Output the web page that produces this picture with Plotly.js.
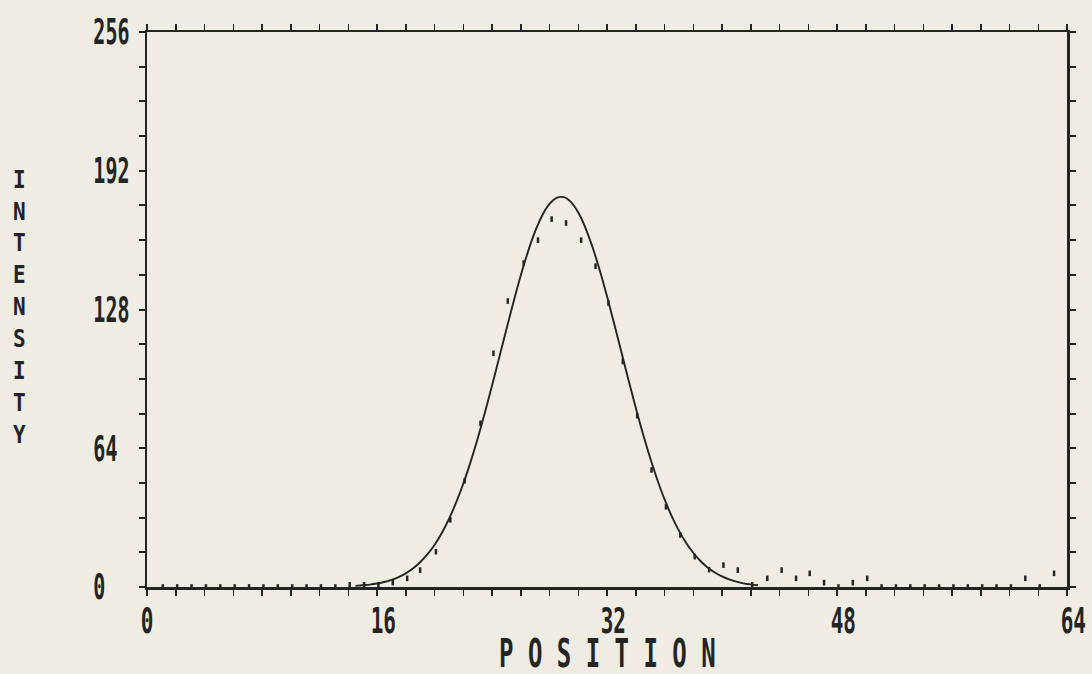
<!DOCTYPE html>
<html>
<head>
<meta charset="utf-8">
<script src="https://cdn.plot.ly/plotly-3.0.1.min.js"></script>
<style>
  html, body { margin: 0; padding: 0; background: #eeece3; }
  #chart { width: 1092px; height: 674px; }
</style>
</head>
<body>
<div id="chart"></div>
<script>
// Fitted curve
const curveX = [14.5, 15.0, 15.5, 16.0, 16.5, 17.0, 17.5, 18.0, 18.5, 19.0, 19.5, 20.0, 20.5, 21.0, 21.5, 22.0, 22.5, 23.0, 23.5, 24.0, 24.5, 25.0, 25.5, 26.0, 26.5, 27.0, 27.5, 28.0, 28.5, 29.0, 29.5, 30.0, 30.5, 31.0, 31.5, 32.0, 32.5, 33.0, 33.5, 34.0, 34.5, 35.0, 35.5, 36.0, 36.5, 37.0, 37.5, 38.0, 38.5, 39.0, 39.5, 40.0, 40.5, 41.0, 41.5, 42.0, 42.5];
const curveY = [0.5, 0.8, 1.1, 1.6, 2.3, 3.3, 4.6, 6.3, 8.5, 11.4, 15.0, 19.4, 24.8, 31.3, 38.9, 47.6, 57.5, 68.4, 80.3, 92.8, 105.8, 118.8, 131.6, 143.7, 154.6, 164.0, 171.5, 176.7, 179.5, 179.8, 177.5, 172.7, 165.7, 156.6, 146.0, 134.1, 121.4, 108.4, 95.4, 82.7, 70.7, 59.6, 49.5, 40.5, 32.7, 26.0, 20.4, 15.8, 12.0, 9.0, 6.7, 4.9, 3.5, 2.5, 1.7, 1.2, 0.8];

const pointX = [1.1, 2.1, 3.1, 4.1, 5.1, 6.1, 7.1, 8.1, 9.1, 10.1, 11.1, 12.1, 13.1, 14.1, 15.1, 16.1, 17.1, 18.1, 19.0, 20.1, 21.1, 22.1, 23.2, 24.1, 25.1, 26.2, 27.2, 28.15, 29.15, 30.2, 31.2, 32.1, 33.1, 34.1, 35.1, 36.1, 37.1, 38.1, 39.1, 40.1, 41.1, 42.1, 43.15, 44.15, 45.15, 46.1, 47.1, 48.1, 49.1, 50.1, 51.1, 52.1, 53.1, 54.1, 55.1, 56.1, 57.1, 58.1, 59.1, 60.1, 61.1, 62.1, 63.1];
const pointY = [0, 0, 0, 0, 0, 0, 0, 0, 0, 0, 0, 0, 0, 1, 1, 1, 2, 4, 7.8, 16.3, 31, 49, 75.5, 107.8, 131.9, 149.4, 160, 169.7, 167.9, 160, 148, 131, 104, 79, 54, 37, 24, 14, 8, 10.1, 7.8, 1, 4, 7.8, 4, 6.3, 2, 0, 2, 4, 0, 0, 0, 0, 0, 0, 0, 0, 0, 0, 4, 0, 6.3];

const xTicks = [0, 16, 32, 48, 64];
const yTicks = [0, 64, 128, 192, 256];
const xTitle = "POSITION";
const yTitle = "INTENSITY";

const NB = '\u00a0';
// old plotter style: x labels start at the tick, y labels are left-aligned
const xTickText = xTicks.map(v => NB.repeat(String(v).length - 1) + String(v));
const yTickText = yTicks.map(v => String(v) + NB.repeat(3 - String(v).length));

const FONT = '"DejaVu Sans Mono", "Liberation Mono", monospace';
const BG = '#eeece3';
const INK = '#242424';

const traces = [
  {
    x: curveX, y: curveY, type: 'scatter', mode: 'lines',
    line: { color: INK, width: 1.9, shape: 'spline' },
    hoverinfo: 'skip', showlegend: false
  },
  {
    x: pointX, y: pointY, type: 'scatter', mode: 'markers',
    marker: { symbol: 'line-ns', size: 4, color: INK, line: { color: INK, width: 2.5 } },
    showlegend: false
  }
];

const axisCommon = {
  showgrid: false, zeroline: false,
  showline: true, linecolor: INK, linewidth: 2.5,
  mirror: 'ticks', ticks: 'outside', ticklen: 6, tickwidth: 2, tickcolor: INK,
  fixedrange: true
};

const layout = {
  width: 1092, height: 674,
  paper_bgcolor: BG, plot_bgcolor: BG,
  margin: { l: 147, r: 25, t: 32, b: 87 },
  font: { family: FONT, color: INK },
  xaxis: Object.assign({}, axisCommon, {
    range: [0, 64], tickmode: 'array', tickvals: xTicks, ticktext: xTickText,
    tickfont: { family: FONT, size: 21, color: INK, weight: 'bold' },
    ticklabelstandoff: 8,
    minor: { dtick: 2, ticks: 'outside', ticklen: 6, tickwidth: 1.5, tickcolor: INK, showgrid: false }
  }),
  yaxis: Object.assign({}, axisCommon, {
    range: [0, 256], tickmode: 'array', tickvals: yTicks, ticktext: yTickText,
    tickfont: { family: FONT, size: 20, color: INK, weight: 'bold' },
    ticklabelstandoff: 5,
    minor: { dtick: 16, ticks: 'outside', ticklen: 6, tickwidth: 2, tickcolor: INK, showgrid: false }
  }),
  annotations: [
    {
      xref: 'paper', yref: 'paper', x: 0.5, y: -0.12, yanchor: 'middle', xanchor: 'center',
      showarrow: false,
      text: xTitle.split('').join(' '),
      font: { family: FONT, size: 24, color: INK, weight: 'bold' }
    },
    {
      xref: 'paper', yref: 'paper', x: -0.139, y: 0.5045, xanchor: 'center', yanchor: 'middle',
      showarrow: false,
      text: yTitle.split('').join('<br>'),
      font: { family: FONT, size: 21, color: INK, weight: 'bold' }
    }
  ]
};

// stretch text vertically about its own centre (the reference uses tall, narrow glyphs)
function stretch(el, s) {
  const bb = el.getBBox();
  const cy = bb.y + bb.height / 2;
  const base = el.getAttribute('transform') || '';
  el.setAttribute('transform', base + ' translate(0,' + cy + ') scale(1,' + s + ') translate(0,' + (-cy) + ')');
}

Plotly.newPlot('chart', traces, layout, { displayModeBar: false, staticPlot: true }).then(function (gd) {
  gd.querySelectorAll('.xtick text').forEach(function (t) { stretch(t, 1.65); });
  gd.querySelectorAll('.ytick text').forEach(function (t) { stretch(t, 1.75); });
  const ann = gd.querySelectorAll('.annotation-text');
  if (ann[0]) stretch(ann[0], 1.62);
  if (ann[1]) stretch(ann[1], 1.17);
});
</script>
</body>
</html>
